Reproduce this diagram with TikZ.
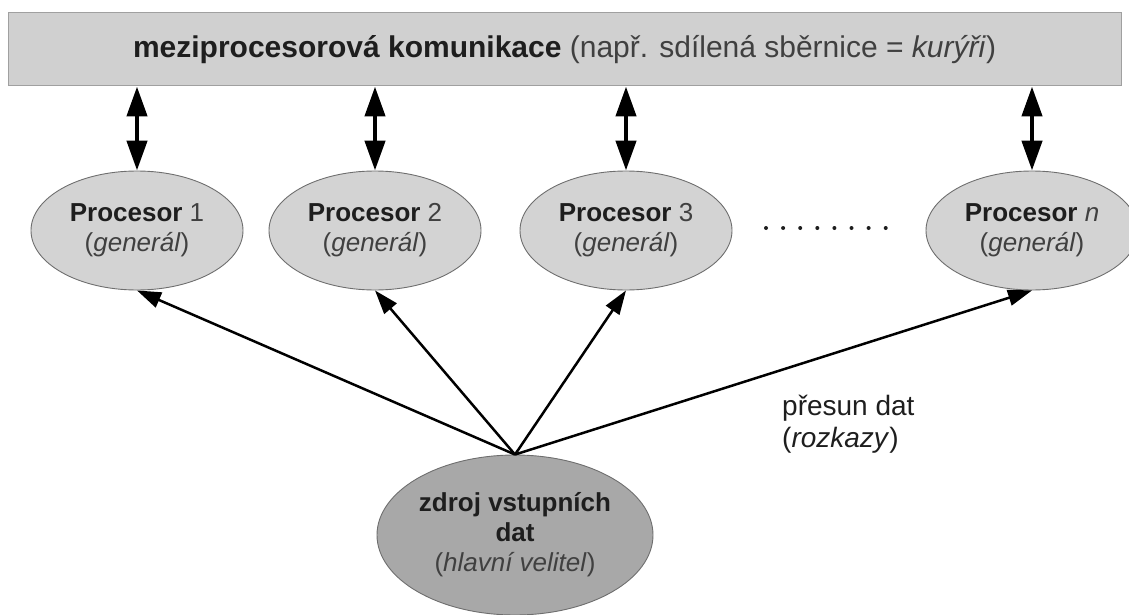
\documentclass[tikz,border=0pt]{standalone}
\usepackage{fontspec}
\setmainfont{Liberation Sans}
\usetikzlibrary{arrows.meta,shapes.geometric}
\definecolor{barfill}{HTML}{D0D0D0}
\definecolor{barline}{HTML}{A0A0A0}
\definecolor{procfill}{HTML}{D3D3D3}
\definecolor{srcfill}{HTML}{A8A8A8}
\definecolor{edgegray}{HTML}{6E6E6E}
\definecolor{txtdark}{HTML}{1E1E1E}
\definecolor{txtgray}{HTML}{404040}
\tikzset{
  procbox/.style={ellipse, draw=edgegray, line width=0.9pt, fill=procfill,
    minimum width=212pt, minimum height=119pt, inner sep=0pt, align=center,
    text=txtdark, font=\fontsize{26}{30}\selectfont},
  srcbox/.style={ellipse, draw=edgegray, line width=0.9pt, fill=srcfill,
    minimum width=276pt, minimum height=160pt, inner sep=0pt, align=center,
    text=txtdark, font=\fontsize{26}{30}\selectfont},
  busbox/.style={rectangle, draw=barline, line width=1pt, fill=barfill,
    minimum width=1113pt, minimum height=73pt, inner sep=0pt,
    text=txtdark, font=\fontsize{30}{36}\selectfont},
  busarrow/.style={{Triangle[length=30pt,width=20pt]}-{Triangle[length=30pt,width=20pt]}, line width=4.5pt, black},
  dataarrow/.style={-{Triangle[length=24pt,width=16pt]}, line width=2.5pt, black},
  lbl/.style={inner sep=0pt, align=left, text=txtdark, font=\fontsize{28}{32}\selectfont},
  sub/.style={text=txtgray}
}
\begin{document}
\begin{tikzpicture}[x=1pt,y=-1pt]
\useasboundingbox (0,0) rectangle (1129,615);
\node[busbox] (bus) at (564.5,49.5) {\textbf{meziprocesorová komunikace} {\color{txtgray}(např. sdílená sběrnice = \textit{kurýři})}};
\node[procbox] (p1) at (137,230.5) {\textbf{Procesor} {\color{txtgray}1}\\{\color{txtgray}(\textit{generál})}};
\node[procbox] (p2) at (375,230.5) {\textbf{Procesor} {\color{txtgray}2}\\{\color{txtgray}(\textit{generál})}};
\node[procbox] (p3) at (626,230.5) {\textbf{Procesor} {\color{txtgray}3}\\{\color{txtgray}(\textit{generál})}};
\node[procbox] (pn) at (1032,230.5) {\textbf{Procesor} {\color{txtgray}\textit{n}}\\{\color{txtgray}(\textit{generál})}};
\node[srcbox] (src) at (515,535) {\textbf{zdroj vstupních}\\\textbf{dat}\\{\color{txtgray}(\textit{hlavní velitel})}};
\node[lbl, anchor=west] (move) at (782,424) {přesun dat\\(\textit{rozkazy})};
\foreach \i in {0,...,7} {
  \fill[txtdark] (766+17.1*\i,228) circle (2pt);
}
\foreach \p in {p1,p2,p3,pn} {
  \draw[busarrow] (bus.south -| \p.north) -- (\p.north);
  \draw[dataarrow] (src.north) -- (\p.south);
}
\end{tikzpicture}
\end{document}
